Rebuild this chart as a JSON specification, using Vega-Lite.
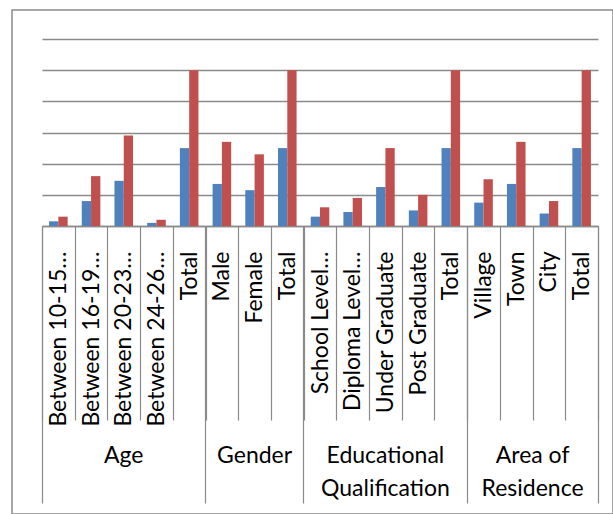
{
  "$schema": "https://vega.github.io/schema/vega-lite/v6.json",
  "autosize": "none",
  "padding": {"left": 12, "top": 10, "right": 0, "bottom": 0},
  "width": 601,
  "height": 504,
  "config": {
    "view": {"stroke": "#8a8a8a", "strokeWidth": 1.5},
    "font": "Lato",
    "axis": {"labelFont": "Lato", "labelColor": "#000000", "labelFontSize": 23, "title": null, "tickColor": "#8a8a8a", "tickWidth": 1.2}
  },
  "data": {"values": [
    {"key": "Age|Between 10-15…", "series": "Frequency", "value": 3},
    {"key": "Age|Between 10-15…", "series": "Percentage", "value": 6},
    {"key": "Age|Between 16-19…", "series": "Frequency", "value": 16},
    {"key": "Age|Between 16-19…", "series": "Percentage", "value": 32},
    {"key": "Age|Between 20-23…", "series": "Frequency", "value": 29},
    {"key": "Age|Between 20-23…", "series": "Percentage", "value": 58},
    {"key": "Age|Between 24-26…", "series": "Frequency", "value": 2},
    {"key": "Age|Between 24-26…", "series": "Percentage", "value": 4},
    {"key": "Age|Total", "series": "Frequency", "value": 50},
    {"key": "Age|Total", "series": "Percentage", "value": 100},
    {"key": "Gender|Male", "series": "Frequency", "value": 27},
    {"key": "Gender|Male", "series": "Percentage", "value": 54},
    {"key": "Gender|Female", "series": "Frequency", "value": 23},
    {"key": "Gender|Female", "series": "Percentage", "value": 46},
    {"key": "Gender|Total", "series": "Frequency", "value": 50},
    {"key": "Gender|Total", "series": "Percentage", "value": 100},
    {"key": "Education|School Level…", "series": "Frequency", "value": 6},
    {"key": "Education|School Level…", "series": "Percentage", "value": 12},
    {"key": "Education|Diploma Level…", "series": "Frequency", "value": 9},
    {"key": "Education|Diploma Level…", "series": "Percentage", "value": 18},
    {"key": "Education|Under Graduate", "series": "Frequency", "value": 25},
    {"key": "Education|Under Graduate", "series": "Percentage", "value": 50},
    {"key": "Education|Post Graduate", "series": "Frequency", "value": 10},
    {"key": "Education|Post Graduate", "series": "Percentage", "value": 20},
    {"key": "Education|Total", "series": "Frequency", "value": 50},
    {"key": "Education|Total", "series": "Percentage", "value": 100},
    {"key": "Area|Village", "series": "Frequency", "value": 15},
    {"key": "Area|Village", "series": "Percentage", "value": 30},
    {"key": "Area|Town", "series": "Frequency", "value": 27},
    {"key": "Area|Town", "series": "Percentage", "value": 54},
    {"key": "Area|City", "series": "Frequency", "value": 8},
    {"key": "Area|City", "series": "Percentage", "value": 16},
    {"key": "Area|Total", "series": "Frequency", "value": 50},
    {"key": "Area|Total", "series": "Percentage", "value": 100}
  ]},
  "resolve": {"axis": {"x": "independent"}},
  "layer": [
    {
      "mark": {"type": "bar"},
      "encoding": {
        "x": {
          "field": "key", "type": "nominal", "sort": null,
          "scale": {"range": [30, 586], "paddingInner": 0, "paddingOuter": 0},
          "axis": {
            "orient": "bottom", "offset": -288,
            "domainColor": "#8a8a8a", "domainWidth": 1.5,
            "tickBand": "extent", "tickSize": 194,
            "labelAngle": 270, "labelAlign": "right", "labelBaseline": "middle",
            "labelPadding": -169, "labelLimit": 400,
            "labelExpr": "split(datum.value, '|')[1]"
          }
        },
        "xOffset": {"field": "series", "type": "nominal", "scale": {"paddingInner": 0, "paddingOuter": 0.76}},
        "y": {
          "field": "value", "type": "quantitative",
          "scale": {"domain": [0, 120], "range": [216, 29], "nice": false},
          "axis": {"values": [0, 20, 40, 60, 80, 100, 120], "labels": false, "ticks": false, "domain": false, "grid": true, "gridColor": "#8a8a8a", "gridWidth": 1.3}
        },
        "color": {"field": "series", "type": "nominal", "scale": {"domain": ["Frequency", "Percentage"], "range": ["#4F81BD", "#C0504D"]}, "legend": null}
      }
    },
    {
      "mark": {"type": "rule", "opacity": 0},
      "encoding": {
        "x": {
          "field": "key", "type": "nominal", "sort": null,
          "axis": {
            "orient": "bottom", "offset": -288, "domain": false, "ticks": false, "grid": false,
            "labelAngle": 0, "labelAlign": "center", "labelBaseline": "alphabetic",
            "labelPadding": 236, "labelLineHeight": 33, "labelLimit": 400,
            "labelExpr": "datum.value === 'Age|Between 20-23…' ? 'Age' : datum.value === 'Gender|Female' ? 'Gender' : datum.value === 'Education|Under Graduate' ? ['Educational', 'Qualification'] : ''"
          }
        }
      }
    },
    {
      "mark": {"type": "rule", "opacity": 0},
      "encoding": {
        "x": {
          "field": "key", "type": "nominal", "sort": null,
          "axis": {
            "orient": "bottom", "offset": -288, "domain": false, "ticks": false, "grid": false,
            "values": ["Area|Town"], "labelOffset": 16.35,
            "labelAngle": 0, "labelAlign": "center", "labelBaseline": "alphabetic",
            "labelPadding": 236, "labelLineHeight": 33, "labelLimit": 400,
            "labelExpr": "['Area of', 'Residence']"
          }
        }
      }
    },
    {
      "mark": {"type": "rule", "opacity": 0},
      "encoding": {
        "x": {
          "field": "key", "type": "nominal", "sort": null,
          "axis": {
            "orient": "bottom", "offset": -288, "domain": false, "grid": false, "labels": false,
            "bandPosition": 1, "values": ["Age|Total", "Gender|Total", "Education|Total", "Area|Total"],
            "ticks": true, "tickSize": 277
          }
        }
      }
    },
    {
      "mark": {"type": "rule", "opacity": 0},
      "encoding": {
        "x": {
          "field": "key", "type": "nominal", "sort": null,
          "axis": {
            "orient": "bottom", "offset": -288, "domain": false, "grid": false, "labels": false,
            "bandPosition": 0, "values": ["Age|Between 10-15…"],
            "ticks": true, "tickSize": 277
          }
        }
      }
    }
  ]
}
